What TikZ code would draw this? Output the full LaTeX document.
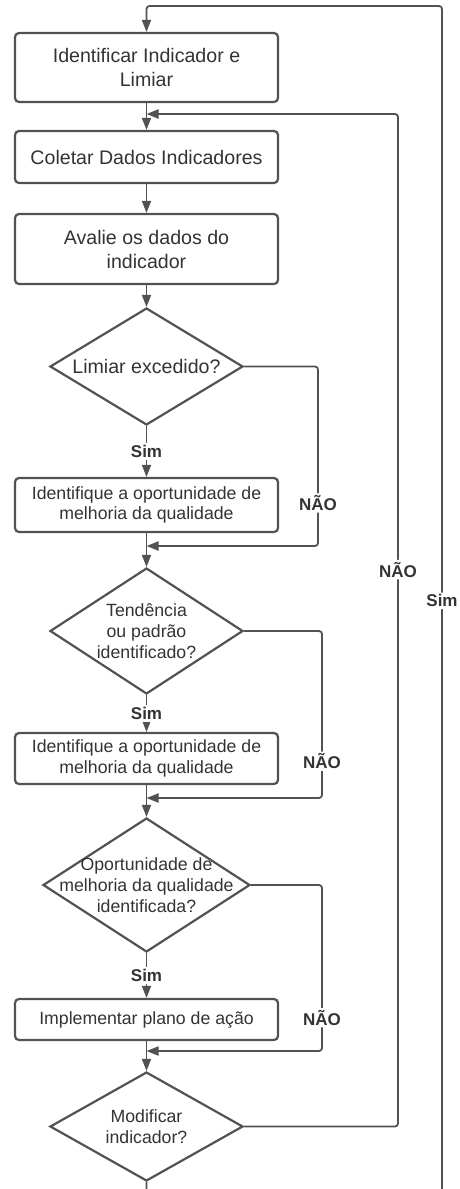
\documentclass[tikz,border=0pt]{standalone}
\usepackage{fontspec}
\setmainfont{Liberation Sans}
\usetikzlibrary{shapes.geometric,arrows.meta}
\definecolor{linha}{HTML}{525252}
\definecolor{texto}{HTML}{333333}
\begin{document}
\begin{tikzpicture}[x=1pt,y=-1pt,
        caixa/.style={draw=linha,line width=2.2pt,rounded corners=4pt,minimum width=263pt,align=center,text=texto,inner sep=0pt},
        grande/.style={font=\fontsize{19.6}{24}\selectfont},
        menor/.style={font=\fontsize{17.7}{20.5}\selectfont},
        losango/.style={diamond,draw=linha,line width=2.2pt,inner sep=0pt},
        txt/.style={align=center,text=texto},
        seta/.style={draw=linha,line width=1.8pt,-{Triangle[length=12pt,width=9pt]}},
        ramo/.style={rounded corners=3pt},
        rot/.style={fill=white,text=texto,inner sep=2pt,font=\bfseries\fontsize{17}{20}\selectfont}]
        \clip (0,0) rectangle (459,1189);
        \node[caixa,grande,minimum height=69pt] (b1) at (146.5,67.5) {Identificar Indicador e\\Limiar};
        \node[caixa,grande,minimum height=52pt] (b2) at (146.5,157) {Coletar Dados Indicadores};
        \node[caixa,grande,minimum height=70pt] (b3) at (146.5,249) {Avalie os dados do\\indicador};
        \node[losango,minimum width=193pt,minimum height=117pt,label={[txt,grande]center:Limiar excedido?}] (d1) at (146.5,366.5) {};
        \node[caixa,menor,minimum height=54pt] (b4) at (146.5,505) {Identifique a oportunidade de\\melhoria da qualidade};
        \node[losango,minimum width=193pt,minimum height=126pt,label={[txt,font=\fontsize{17.7}{21}\selectfont]center:Tendência\\ou padrão\\identificado?}] (d2) at (146.5,631) {};
        \node[caixa,menor,minimum height=51pt] (b5) at (146.5,758.5) {Identifique a oportunidade de\\melhoria da qualidade};
        \node[losango,minimum width=207pt,minimum height=134pt,label={[txt,font=\fontsize{17.7}{21}\selectfont]center:Oportunidade de\\melhoria da qualidade\\identificada?}] (d3) at (146.5,885) {};
        \node[caixa,menor,minimum height=41pt] (b6) at (146.5,1019.5) {Implementar plano de ação};
        \node[losango,minimum width=193pt,minimum height=109pt,label={[txt,font=\fontsize{17.7}{21}\selectfont]center:Modificar\\indicador?}] (d4) at (146.5,1126.5) {};
        % pontos de juncao
        \coordinate (m1) at (146.5,114);
        \coordinate (m2) at (146.5,546);
        \coordinate (m3) at (146.5,798);
        \coordinate (m4) at (146.5,1051);
        \coordinate (c1) at (318,546);
        \coordinate (c2) at (322,798);
        \coordinate (c3) at (322,1051);
        \coordinate (c4) at (398,114);
        \coordinate (c5) at (146.5,1210);
        \coordinate (c6) at (442,6);
        % fluxo principal
        \draw[seta] (b1) -- (b2);
        \draw[seta] (b2) -- (b3);
        \draw[seta] (b3) -- (d1);
        \draw[seta] (d1) -- node[rot]{Sim} (b4);
        \draw[seta] (b4) -- (d2);
        \draw[seta] (d2) -- node[rot]{Sim} (b5);
        \draw[seta] (b5) -- (d3);
        \draw[seta] (d3) -- node[rot]{Sim} (b6);
        \draw[seta] (b6) -- (d4);
        % retornos
        \draw[seta,ramo] (d1.east) -| node[rot,pos=.88]{NÃO} (c1) -- (m2);
        \draw[seta,ramo] (d2.east) -| node[rot,pos=.89]{NÃO} (c2) -- (m3);
        \draw[seta,ramo] (d3.east) -| node[rot,pos=.9]{NÃO} (c3) -- (m4);
        \draw[seta,ramo] (d4.east) -| node[rot,pos=.775]{NÃO} (c4) -- (m1);
        \draw[seta,ramo] (d4.south) -- (c5) -| node[rot,pos=.753]{Sim} (c6) -| (b1.north);
\end{tikzpicture}
\end{document}
